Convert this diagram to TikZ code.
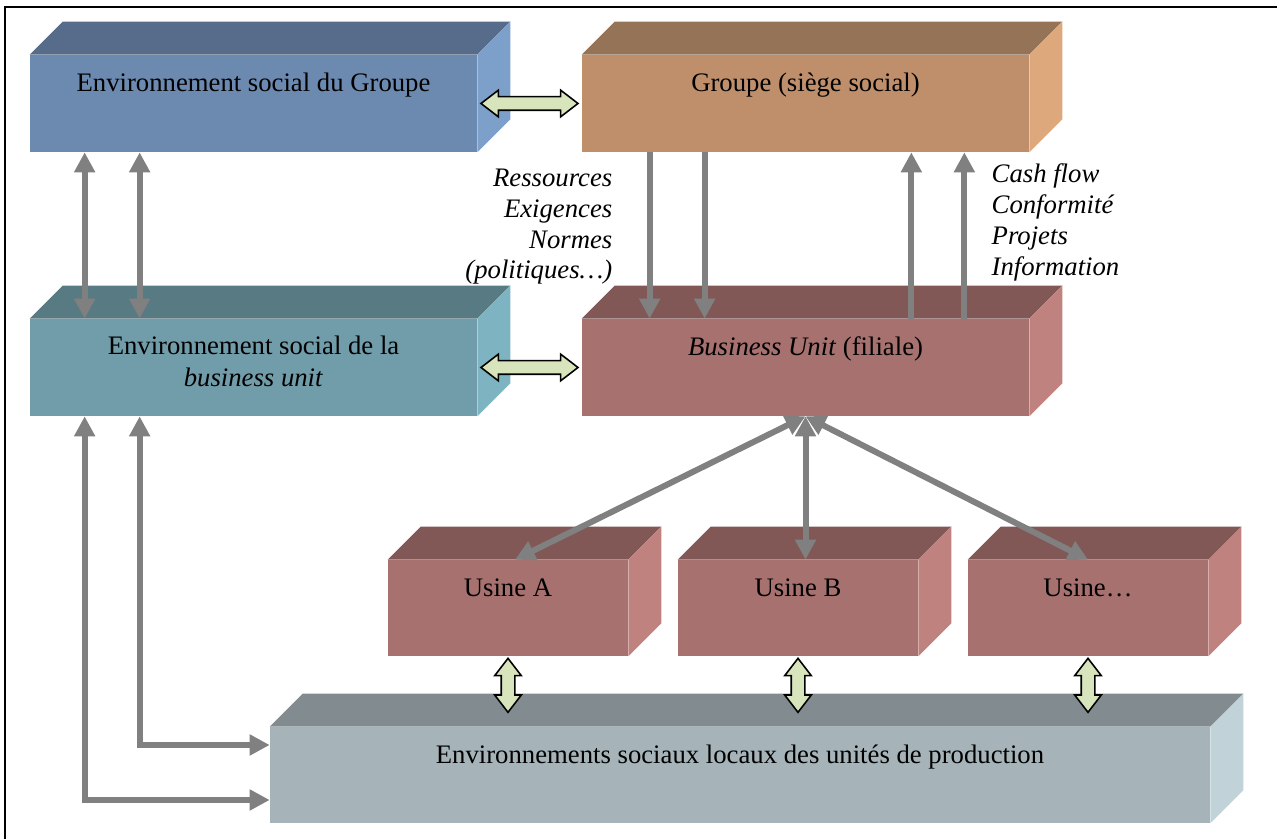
\documentclass[tikz,border=0pt]{standalone}
\usepackage{fontspec}
\setmainfont{Liberation Serif}
\usetikzlibrary{arrows.meta,shapes.arrows,calc}

\definecolor{grpenvF}{HTML}{6C89B0}
\definecolor{grpenvT}{HTML}{566C8A}
\definecolor{grpenvS}{HTML}{7DA0CB}
\definecolor{grpF}{HTML}{BF8F6C}
\definecolor{grpT}{HTML}{947356}
\definecolor{grpS}{HTML}{DEA87D}
\definecolor{buenvF}{HTML}{719DAA}
\definecolor{buenvT}{HTML}{587A82}
\definecolor{buenvS}{HTML}{7EB3C2}
\definecolor{buF}{HTML}{A6716E}
\definecolor{buT}{HTML}{825856}
\definecolor{buS}{HTML}{C0827F}
\definecolor{locF}{HTML}{A6B4B9}
\definecolor{locT}{HTML}{828C90}
\definecolor{locS}{HTML}{C1D3D8}
\definecolor{arrowgray}{HTML}{808080}
\definecolor{arrowgreen}{HTML}{D8E4BC}

\newcommand{\cdepth}{0.66}
\newcommand{\cuboid}[3]{%
  \fill[#2] (#1.north west) -- ([shift={(\cdepth,\cdepth)}]#1.north west)
    -- ([shift={(\cdepth,\cdepth)}]#1.north east) -- (#1.north east) -- cycle;
  \fill[#3] (#1.north east) -- ([shift={(\cdepth,\cdepth)}]#1.north east)
    -- ([shift={(\cdepth,\cdepth)}]#1.south east) -- (#1.south east) -- cycle;
}

\tikzset{
  boxtext/.style={font=\fontsize{15.2}{18.4}\selectfont},
  bigface/.style={boxtext, inner sep=0pt, minimum width=8.94cm, minimum height=1.94cm,
    text height=0.74cm, text depth=1.2cm, align=center},
  smallface/.style={boxtext, inner sep=0pt, minimum width=4.8cm, minimum height=1.92cm,
    text height=0.73cm, text depth=1.19cm},
  listtext/.style={inner sep=0pt, font=\fontsize{15.2}{17.6}\selectfont\itshape},
  gtip/.tip={Triangle[width=0.4cm,length=0.4cm]},
  grayarrow/.style={draw=arrowgray, line width=0.12cm},
  garrow/.style={double arrow, draw=black, fill=arrowgreen, line width=0.9pt, inner sep=0.12cm,
    minimum width=0.5cm, double arrow head extend=0.13cm, double arrow tip angle=75}
}

\begin{document}
\begin{tikzpicture} % boxes are front faces, top and side faces added by \cuboid
\useasboundingbox (0,0) rectangle (25.54,16.78);
\draw[line width=1.2pt] (0.1,0) -- (0.1,16.64) -- (25.54,16.64);

\node[bigface, fill=grpenvF] (envgrp) at (5.07,14.71) {Environnement social du Groupe};
\cuboid{envgrp}{grpenvT}{grpenvS}
\node[bigface, fill=grpF] (grp) at (16.11,14.71) {Groupe (siège social)};
\cuboid{grp}{grpT}{grpS}

\node[bigface, fill=buenvF, text height=1.36cm, text depth=0.58cm] (envbu) at (5.07,9.43) {Environnement social de la\\\textit{business unit}};
\cuboid{envbu}{buenvT}{buenvS}
\node[bigface, fill=buF] (bu) at (16.11,9.43) {\textit{Business Unit} (filiale)};
\cuboid{bu}{buT}{buS}

\node[smallface, fill=buF] (usa) at (10.16,4.62) {Usine A};
\cuboid{usa}{buT}{buS}
\node[smallface, fill=buF] (usb) at (15.96,4.62) {Usine B};
\cuboid{usb}{buT}{buS}
\node[smallface, fill=buF] (usc) at (21.76,4.62) {Usine…};
\cuboid{usc}{buT}{buS}

\node[smallface, fill=locF, minimum width=18.8cm] (loc) at (14.8,1.28) {Environnements sociaux locaux des unités de production};
\cuboid{loc}{locT}{locS}

\node[listtext, align=right, anchor=north east] (demands) at ([xshift=0.62cm,yshift=-0.32cm]grp.south west) {Ressources\\Exigences\\Normes\\(politiques…)};
\node[listtext, align=left, anchor=north west] (returns) at ([xshift=-0.76cm,yshift=-0.22cm]grp.south east) {Cash flow\\Conformité\\Projets\\Information};

\draw[grayarrow, gtip-gtip] ([xshift=1.1cm]envgrp.south west) -- ([xshift=1.1cm]envbu.north west);
\draw[grayarrow, gtip-gtip] ([xshift=2.2cm]envgrp.south west) -- ([xshift=2.2cm]envbu.north west);
\draw[grayarrow, gtip-gtip] ([xshift=1.1cm]envbu.south west) |- ([yshift=-0.5cm]loc.west);
\draw[grayarrow, gtip-gtip] ([xshift=2.2cm]envbu.south west) |- ([yshift=0.6cm]loc.west);

\draw[grayarrow, -gtip] ([xshift=1.36cm]grp.south west) -- ([xshift=1.36cm]bu.north west);
\draw[grayarrow, -gtip] ([xshift=2.46cm]grp.south west) -- ([xshift=2.46cm]bu.north west);
\draw[grayarrow, -gtip] ([xshift=-2.36cm]bu.north east) -- ([xshift=-2.36cm]grp.south east);
\draw[grayarrow, -gtip] ([xshift=-1.3cm]bu.north east) -- ([xshift=-1.3cm]grp.south east);

\draw[grayarrow, gtip-gtip] (bu.south) -- ([xshift=0.14cm]usa.north);
\draw[grayarrow, gtip-gtip] (bu.south) -- (bu.south |- usb.north);
\draw[grayarrow, gtip-gtip] (bu.south) -- (usc.north);

\node[garrow, minimum height=1.94cm] (link1) at ($(envgrp.east)!0.5!(grp.west)$) {};
\node[garrow, minimum height=1.94cm] (link2) at ($(envbu.east)!0.5!(bu.west)$) {};
\node[garrow, rotate=90, minimum height=1.08cm] (link3) at ([yshift=-0.58cm]usa.south) {};
\node[garrow, rotate=90, minimum height=1.08cm] (link4) at ([yshift=-0.58cm]usb.south) {};
\node[garrow, rotate=90, minimum height=1.08cm] (link5) at ([yshift=-0.58cm]usc.south) {};
\end{tikzpicture}
\end{document}
